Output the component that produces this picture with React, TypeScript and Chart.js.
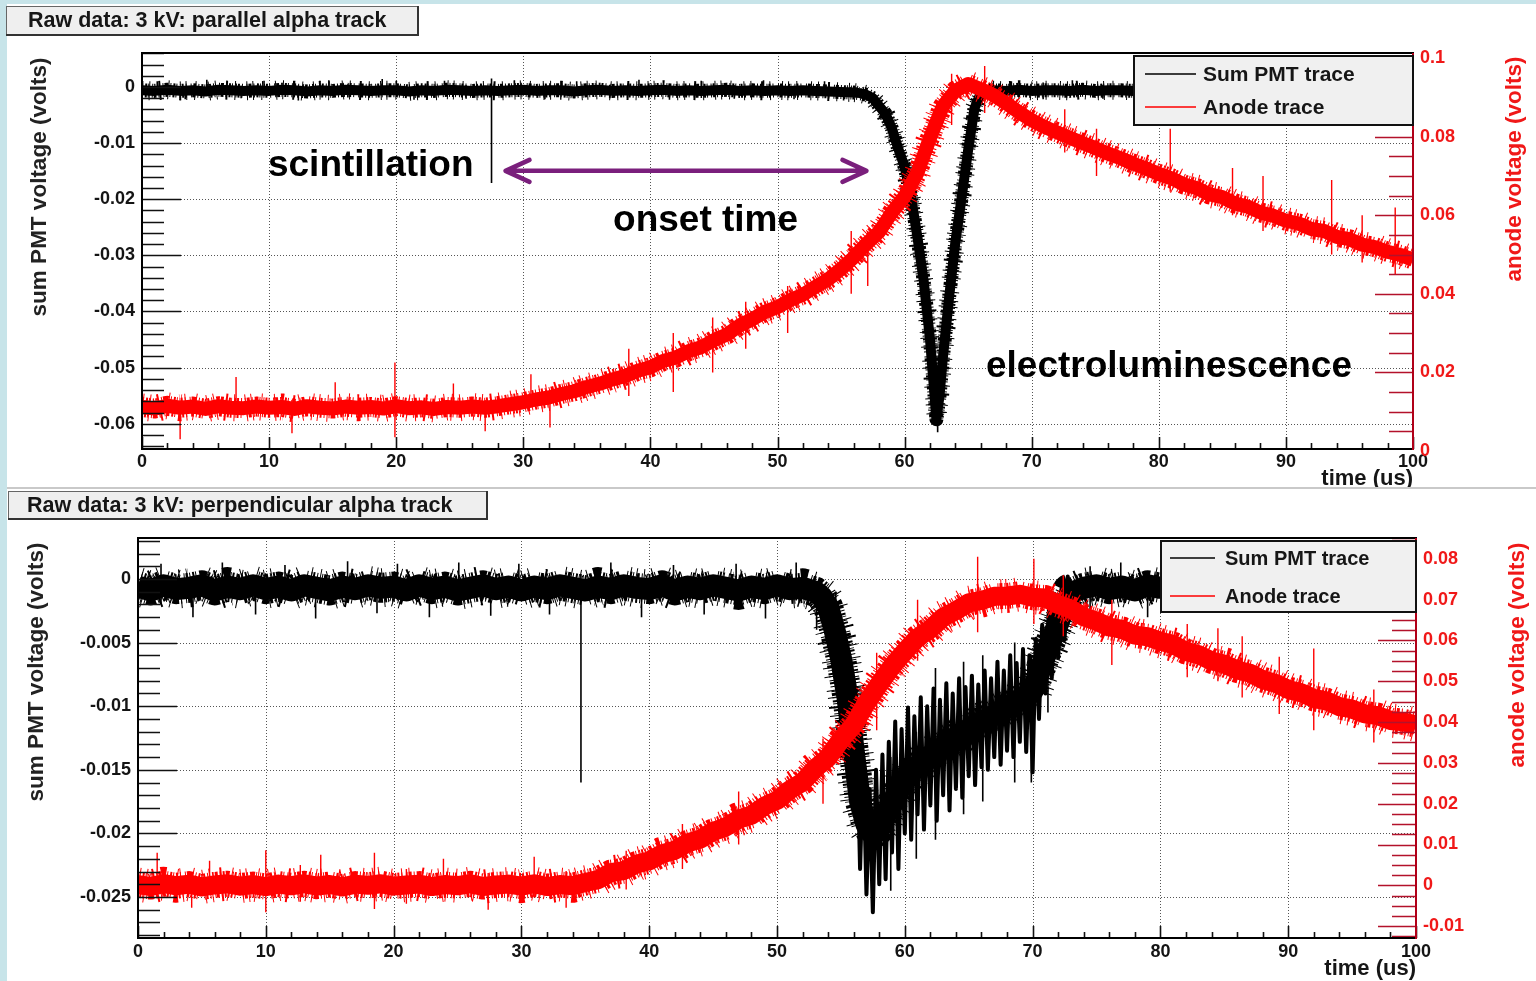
import React, { useEffect, useRef } from "react";
import { Chart, registerables } from "chart.js";

Chart.register(...registerables);

const FONT = '"Liberation Sans", Arial, Helvetica, sans-serif';
const BLUE = "#c7e4e9";

// ---------------- axis tick values ----------------
const TIME_TICKS = [0, 10, 20, 30, 40, 50, 60, 70, 80, 90, 100];
const TOP_PMT_TICKS = [0, -0.01, -0.02, -0.03, -0.04, -0.05, -0.06];
const TOP_ANODE_TICKS = [0.1, 0.08, 0.06, 0.04, 0.02, 0];
const BOTTOM_PMT_TICKS = [0, -0.005, -0.01, -0.015, -0.02, -0.025];
const BOTTOM_ANODE_TICKS = [0.08, 0.07, 0.06, 0.05, 0.04, 0.03, 0.02, 0.01, 0, -0.01];

// ---------------- shared 1 us time grid ----------------
const TIME_US = [
  0, 1, 2, 3, 4, 5, 6, 7, 8, 9, 10, 11, 12, 13, 14, 15, 16, 17, 18, 19,
  20, 21, 22, 23, 24, 25, 26, 27, 28, 29, 30, 31, 32, 33, 34, 35, 36, 37, 38, 39,
  40, 41, 42, 43, 44, 45, 46, 47, 48, 49, 50, 51, 52, 53, 54, 55, 56, 57, 58, 59,
  60, 61, 62, 63, 64, 65, 66, 67, 68, 69, 70, 71, 72, 73, 74, 75, 76, 77, 78, 79,
  80, 81, 82, 83, 84, 85, 86, 87, 88, 89, 90, 91, 92, 93, 94, 95, 96, 97, 98, 99, 100,
];

// ---------------- TOP panel: parallel alpha track ----------------
const TOP_PMT_TIME = [
  0, 1, 2, 3, 4, 5, 6, 7, 8, 9, 10, 11, 12, 13, 14, 15, 16, 17, 18, 19,
  20, 21, 22, 23, 24, 25, 26, 27, 28, 29, 30, 31, 32, 33, 34, 35, 36, 37, 38, 39,
  40, 41, 42, 43, 44, 45, 46, 47, 48, 49, 50, 51, 52, 53, 54, 55, 56,
  56.5, 57, 57.5, 58, 58.5, 59, 59.5, 60, 60.5, 61, 61.5, 62, 62.25, 62.5, 62.75, 63, 63.5, 64, 64.5, 65, 65.5, 66, 66.5,
  67, 68, 69, 70, 71, 72, 73, 74, 75, 76, 77, 78, 79, 80, 81, 82, 83, 84, 85, 86,
  87, 88, 89, 90, 91, 92, 93, 94, 95, 96, 97, 98, 99, 100,
];
const TOP_PMT_VOLTS = [
  -0.0006, -0.0007, -0.0005, -0.0007, -0.0006, -0.0008, -0.0005, -0.0006, -0.0007, -0.0006,
  -0.0007, -0.0005, -0.0006, -0.0008, -0.0006, -0.0007, -0.0005, -0.0006, -0.0007, -0.0006,
  -0.0006, -0.0008, -0.0006, -0.0007, -0.0005, -0.0006, -0.0007, -0.0006, -0.0007, -0.0006,
  -0.0005, -0.0007, -0.0006, -0.0006, -0.0008, -0.0006, -0.0005, -0.0007, -0.0006, -0.0007,
  -0.0006, -0.0005, -0.0007, -0.0006, -0.0007, -0.0006, -0.0005, -0.0007, -0.0006, -0.0007,
  -0.0006, -0.0007, -0.0006, -0.0007, -0.0008, -0.0009, -0.001,
  -0.0011, -0.0014, -0.002, -0.0034, -0.0048, -0.0074, -0.011, -0.0142, -0.0195, -0.0266,
  -0.0345, -0.045, -0.052, -0.0592, -0.055, -0.0485, -0.0375, -0.0275, -0.0195, -0.0112,
  -0.0038, -0.001, -0.0006,
  -0.0006, -0.0007, -0.0005, -0.0007, -0.0006, -0.0006, -0.0007, -0.0005, -0.0007, -0.0006,
  -0.0006, -0.0007, -0.0006, -0.0006, -0.0005, -0.0007, -0.0006, -0.0007, -0.0006, -0.0005,
  -0.0007, -0.0006, -0.0006, -0.0007, -0.0006, -0.0007, -0.0005, -0.0006, -0.0007, -0.0006,
  -0.0007, -0.0006, -0.0005, -0.0006,
];
const TOP_PMT_SPIKE_TIME = [
  1.2, 3.4, 5.1, 7.8, 9.6, 12.3, 14.7, 16.2, 18.9, 21.4, 23.8, 25.5, 27.5, 29.3, 31.7, 34.2,
  36.8, 39.1, 41.5, 44.0, 46.6, 48.9, 51.3, 53.7, 55.2, 61.6, 62.3, 62.6, 62.9, 68.4, 70.9, 73.2, 75.6,
];
const TOP_PMT_SPIKE_LOW = [
  -0.0012, -0.0022, -0.001, -0.002, -0.0009, -0.0024, -0.0011, -0.0019, -0.001, -0.0023, -0.0009,
  -0.0021, -0.0171, -0.001, -0.0022, -0.0009, -0.002, -0.001, -0.0023, -0.0011, -0.0021, -0.0009,
  -0.0022, -0.001, -0.0024, -0.042, -0.057, -0.0615, -0.057, -0.002, -0.0022, -0.0009, -0.0021,
];
const TOP_PMT_SPIKE_HIGH = [
  0.001, 0.0, 0.0013, 0.0002, 0.0011, -0.0002, 0.0012, 0.0005, 0.0014, 0.0, 0.0011,
  0.0003, 0.0015, 0.0012, 0.0001, 0.001, 0.0004, 0.0013, 0.0, 0.0011, 0.0003, 0.0012,
  0.0002, 0.001, -0.0002, -0.033, -0.046, -0.05, -0.047, 0.001, 0.0008, 0.0012, 0.0004,
];
const TOP_ANODE_VOLTS = [
  0.0112, 0.0108, 0.0115, 0.011, 0.0113, 0.0107, 0.0114, 0.011, 0.0109, 0.0113,
  0.011, 0.0112, 0.0107, 0.0114, 0.011, 0.0108, 0.0113, 0.011, 0.0112, 0.0108,
  0.0114, 0.0109, 0.0111, 0.0107, 0.0112, 0.011, 0.0113, 0.011, 0.0114, 0.0119,
  0.0124, 0.0131, 0.0136, 0.0145, 0.0152, 0.0163, 0.0171, 0.0182, 0.0191, 0.0204,
  0.0213, 0.0229, 0.0238, 0.0254, 0.0264, 0.0282, 0.0296, 0.0319, 0.0335, 0.0354,
  0.0366, 0.0384, 0.0398, 0.0418, 0.0437, 0.0463, 0.0493, 0.0527, 0.0558, 0.0607,
  0.0648, 0.0707, 0.0797, 0.0877, 0.0917, 0.0934, 0.0921, 0.0906, 0.0885, 0.0862,
  0.0842, 0.0825, 0.0811, 0.0797, 0.0784, 0.0771, 0.0757, 0.0745, 0.0731, 0.0719,
  0.0705, 0.0694, 0.0678, 0.0669, 0.0653, 0.0646, 0.063, 0.0622, 0.0607, 0.0599,
  0.0586, 0.0579, 0.0565, 0.056, 0.0545, 0.0539, 0.0525, 0.0519, 0.0507, 0.0499,
  0.0487,
];
const TOP_ANODE_SPIKE_TIME = [
  3.0, 7.4, 11.8, 15.2, 19.9, 24.5, 27.0, 30.6, 32.1, 38.3, 41.8, 44.9, 47.5, 50.8, 55.8,
  57.1, 63.7, 66.3, 72.6, 75.1, 80.9, 85.8, 88.2, 93.6, 96.0, 98.6,
];
const TOP_ANODE_SPIKE_LOW = [
  0.003, 0.01, 0.0045, 0.0095, 0.0035, 0.01, 0.005, 0.011, 0.006, 0.014, 0.015, 0.02, 0.026,
  0.03, 0.04, 0.042, 0.083, 0.086, 0.076, 0.07, 0.066, 0.06, 0.056, 0.05, 0.048, 0.045,
];
const TOP_ANODE_SPIKE_HIGH = [
  0.012, 0.0188, 0.013, 0.0175, 0.0225, 0.0172, 0.013, 0.0195, 0.015, 0.026, 0.03, 0.034, 0.038,
  0.042, 0.056, 0.056, 0.096, 0.098, 0.087, 0.082, 0.082, 0.072, 0.07, 0.069, 0.06, 0.062,
];

// ---------------- BOTTOM panel: perpendicular alpha track ----------------
const BOTTOM_PMT_TIME = [
  0, 1, 2, 3, 4, 5, 6, 7, 8, 9, 10, 11, 12, 13, 14, 15, 16, 17, 18, 19,
  20, 21, 22, 23, 24, 25, 26, 27, 28, 29, 30, 31, 32, 33, 34, 35, 36, 37, 38, 39,
  40, 41, 42, 43, 44, 45, 46, 47, 48, 49, 50, 51, 52, 53,
  53.5, 54, 54.5, 55, 55.5, 56, 56.5, 57, 57.5, 58, 58.5, 59, 59.5, 60, 60.5, 61, 61.5, 62, 62.5, 63,
  63.5, 64, 64.5, 65, 65.5, 66, 66.5, 67, 67.5, 68, 68.5, 69, 69.5, 70, 70.5, 71, 71.5, 72, 72.5, 73,
  74, 75, 76, 77, 78, 79, 80, 81, 82, 83, 84, 85, 86, 87, 88, 89, 90, 91, 92, 93,
  94, 95, 96, 97, 98, 99, 100,
];
const BOTTOM_PMT_VOLTS = [
  -0.0006, -0.0009, -0.0005, -0.0008, -0.0007, -0.0005, -0.0009, -0.0006, -0.0008, -0.0005,
  -0.0008, -0.0006, -0.0009, -0.0005, -0.0007, -0.0009, -0.0006, -0.0008, -0.0005, -0.0007,
  -0.0006, -0.0009, -0.0005, -0.0008, -0.0006, -0.0009, -0.0007, -0.0005, -0.0008, -0.0006,
  -0.0009, -0.0006, -0.0008, -0.0005, -0.0007, -0.0009, -0.0006, -0.0008, -0.0005, -0.0007,
  -0.0008, -0.0005, -0.0009, -0.0006, -0.0008, -0.0005, -0.0007, -0.0009, -0.0006, -0.0008,
  -0.0005, -0.0008, -0.0007, -0.001,
  -0.0014, -0.0022, -0.004, -0.0062, -0.0092, -0.0135, -0.0175, -0.0193, -0.0201, -0.0197,
  -0.0186, -0.0176, -0.0167, -0.0158, -0.0152, -0.0147, -0.0143, -0.0139, -0.0136, -0.0132,
  -0.0128, -0.0125, -0.0121, -0.0118, -0.0115, -0.0112, -0.011, -0.0107, -0.0104, -0.0101,
  -0.0098, -0.0095, -0.0092, -0.0088, -0.0074, -0.006, -0.0047, -0.0035, -0.0021, -0.0011,
  -0.0007, -0.0005, -0.0008, -0.0006, -0.0009, -0.0005, -0.0007, -0.0006, -0.0008, -0.0005,
  -0.0009, -0.0006, -0.0007, -0.0008, -0.0005, -0.0009, -0.0006, -0.0008, -0.0005, -0.0007,
  -0.0006, -0.0009, -0.0005, -0.0008, -0.0006, -0.0007, -0.0008,
];
const BOTTOM_PMT_NOISE_TIME = [
  55.75, 56, 56.25, 56.5, 56.75, 57, 57.25, 57.5, 57.75, 58,
  58.25, 58.5, 58.75, 59, 59.25, 59.5, 59.75, 60, 60.25, 60.5,
  60.75, 61, 61.25, 61.5, 61.75, 62, 62.25, 62.5, 62.75, 63,
  63.25, 63.5, 63.75, 64, 64.25, 64.5, 64.75, 65, 65.25, 65.5,
  65.75, 66, 66.25, 66.5, 66.75, 67, 67.25, 67.5, 67.75, 68,
  68.25, 68.5, 68.75, 69, 69.25, 69.5, 69.75, 70, 70.25, 70.5,
  70.75, 71, 71.25, 71.5, 71.75, 72, 72.25, 72.5, 72.75, 73,
];
const BOTTOM_PMT_NOISE_VOLTS = [
  -0.0085, -0.0175, -0.0118, -0.0228, -0.0142, -0.0248, -0.0165, -0.0262, -0.015, -0.024,
  -0.0138, -0.0236, -0.0128, -0.0215, -0.0112, -0.0228, -0.0118, -0.02, -0.0101, -0.0205,
  -0.0108, -0.0185, -0.0093, -0.0197, -0.01, -0.0178, -0.0086, -0.019, -0.0095, -0.017,
  -0.0082, -0.0182, -0.009, -0.0165, -0.0078, -0.0172, -0.0085, -0.0155, -0.0076, -0.0162,
  -0.0083, -0.0148, -0.0072, -0.015, -0.0078, -0.014, -0.0065, -0.0146, -0.0072, -0.0135,
  -0.006, -0.014, -0.0066, -0.0128, -0.0055, -0.0136, -0.006, -0.0152, -0.0047, -0.011,
  -0.0036, -0.009, -0.0028, -0.0078, -0.0018, -0.0062, -0.0008, -0.0048, 0.0002, -0.003,
];
const BOTTOM_PMT_SPIKE_TIME = [
  1.8, 4.3, 6.6, 9.2, 11.5, 13.9, 16.4, 18.7, 20.3, 22.8, 25.1, 27.6, 29.8, 32.2, 34.66,
  37.0, 39.4, 41.9, 44.3, 46.8, 49.1, 51.5, 53.1, 54.6, 74.5, 76.9, 79.0,
  58.9, 60.9, 62.4, 64.6, 66.1, 68.6, 69.9, 71.2,
];
const BOTTOM_PMT_SPIKE_LOW = [
  -0.002, -0.003, -0.0015, -0.0028, -0.0016, -0.0031, -0.0014, -0.0027, -0.0017, -0.003,
  -0.0015, -0.0029, -0.0016, -0.0028, -0.016, -0.0015, -0.003, -0.0016, -0.0028, -0.0014,
  -0.0031, -0.0017, -0.004, -0.0075, -0.0028, -0.0016, -0.003,
  -0.0245, -0.022, -0.0205, -0.0185, -0.0175, -0.016, -0.016, -0.0105,
];
const BOTTOM_PMT_SPIKE_HIGH = [
  0.0012, -0.0005, 0.0013, -0.0002, 0.0011, -0.0006, 0.0014, 0.0, 0.0012, -0.0004,
  0.0013, 0.0001, 0.0012, -0.0003, 0.0004, 0.0013, -0.0002, 0.0011, 0.0001, 0.0012,
  -0.0004, 0.0013, -0.0006, -0.001, 0.001, 0.0013, 0.0,
  -0.014, -0.012, -0.007, -0.0065, -0.006, -0.005, -0.006, -0.002,
];
const BOTTOM_ANODE_VOLTS = [
  0.0002, -0.0003, 0.0004, -0.0001, 0.0003, -0.0004, 0.0001, 0.0004, -0.0002, 0.0002,
  -0.0003, 0.0003, -0.0001, 0.0004, -0.0002, 0.0002, -0.0004, 0.0003, 0.0, 0.0004,
  -0.0002, 0.0001, 0.0003, -0.0003, 0.0002, -0.0001, 0.0004, -0.0003, 0.0001, 0.0003,
  -0.0002, 0.0004, -0.0003, 0.0002, -0.0001, 0.0007, 0.0014, 0.0031, 0.0036, 0.0052,
  0.006, 0.0077, 0.0086, 0.0104, 0.0113, 0.0132, 0.0143, 0.0162, 0.0172, 0.0194,
  0.0208, 0.0234, 0.0253, 0.0287, 0.0313, 0.0357, 0.0393, 0.0447, 0.0493, 0.0537,
  0.0573, 0.0607, 0.0628, 0.0657, 0.0673, 0.0692, 0.0698, 0.0708, 0.0709, 0.0713,
  0.0706, 0.0704, 0.0688, 0.0677, 0.0658, 0.0647, 0.0633, 0.0627, 0.0613, 0.0609,
  0.0598, 0.059, 0.0573, 0.0565, 0.055, 0.0542, 0.0528, 0.052, 0.0504, 0.0495,
  0.048, 0.0472, 0.0458, 0.0452, 0.0438, 0.0432, 0.042, 0.0416, 0.0404, 0.0401,
  0.0393,
];
const BOTTOM_ANODE_SPIKE_TIME = [
  1.5, 4.2, 5.6, 10.0, 12.7, 14.3, 18.5, 21.0, 23.9, 27.4, 31.0, 33.5, 38.2, 42.6,
  47.0, 53.6, 57.8, 61.0, 65.7, 70.1, 72.4, 76.2, 82.1, 84.5, 86.4, 89.3, 92.0, 96.7,
];
const BOTTOM_ANODE_SPIKE_LOW = [
  -0.003, -0.0055, -0.002, -0.0066, -0.004, -0.0025, -0.0058, -0.0045, -0.002, -0.006,
  -0.003, -0.0055, -0.001, 0.004, 0.01, 0.02, 0.038, 0.055, 0.062, 0.064,
  0.061, 0.054, 0.051, 0.05, 0.046, 0.042, 0.038, 0.035,
];
const BOTTOM_ANODE_SPIKE_HIGH = [
  0.008, 0.002, 0.006, 0.0086, 0.005, 0.0075, 0.008, 0.004, 0.0065, 0.003,
  0.007, 0.0035, 0.0085, 0.015, 0.023, 0.036, 0.057, 0.07, 0.0805, 0.08,
  0.076, 0.07, 0.064, 0.063, 0.061, 0.056, 0.058, 0.048,
];

// ---------------- helpers ----------------
const toXY = (t: number[], v: number[]) => t.map((x, i) => ({ x, y: v[i] }));
const toSpikes = (t: number[], lo: number[], hi: number[]) => {
  const out: { x: number; y: number | null }[] = [];
  t.forEach((x, i) => {
    out.push({ x, y: lo[i] }, { x, y: hi[i] }, { x, y: null });
  });
  return out;
};

const lineSet = (label: string, data: any[], yAxisID: string, color: string, width: number, order: number, dash: number[] = []) => ({
  type: "line",
  label,
  data,
  yAxisID,
  xAxisID: "x",
  borderColor: color,
  backgroundColor: color,
  borderWidth: width,
  borderDash: dash,
  pointRadius: 0,
  pointHoverRadius: 0,
  tension: 0,
  fill: false,
  spanGaps: false,
  borderJoinStyle: "round",
  borderCapStyle: "butt",
  order,
  clip: 1,
});

// noisy band = solid core + two dashed "fuzz" strokes (styling only, same data)
const FUZZ_NEAR = [1, 2, 2, 1, 1, 3, 1, 1, 2, 2, 1, 4, 1, 1, 3, 2];
const FUZZ_FAR = [1, 6, 1, 9, 2, 7, 1, 11, 1, 5, 1, 8, 1, 13];
const bandSets = (label: string, data: any[], yAxisID: string, color: string, width: number, near: number, far: number, order: number) => [
  lineSet(label, data, yAxisID, color, width, order),
  lineSet(label + " fuzz", data, yAxisID, color, width + near, order + 0.1, FUZZ_NEAR),
  lineSet(label + " fuzz2", data, yAxisID, color, width + far, order + 0.2, FUZZ_FAR),
];

type Panel = any;

const TOP_PANEL: Panel = {
  key: "top",
  height: 487,
  area: { left: 142, right: 1413, top: 53, bottom: 449 },
  leftRange: [-0.0645, 0.00605],
  rightRange: [0.0005, 0.1013],
  leftTicks: TOP_PMT_TICKS,
  rightTicks: TOP_ANODE_TICKS,
  leftMinor: 0.002,
  leftMajor: 0.01,
  rightMinor: 0.005,
  rightMajor: 0.02,
  tickFont: 18,
  xPad: 2,
  title: "Raw data: 3 kV: parallel alpha track",
  titleBox: { x: 6, y: 6, w: 412, h: 29 },
  titleTextX: 28,
  topStrip: true,
  separator: false,
  leftTitle: { x: 40, y: 187 },
  rightTitle: { x: 1515, y: 169 },
  xTitle: { x: 1413, y: 485 },
  legend: { x: 1134, y: 56, w: 279, h: 69, rows: [74, 107], l1: 1145, l2: 1196, tx: 1203, font: 21 },
  annotations: true,
  datasets: [
    ...bandSets("Anode trace", toXY(TIME_US, TOP_ANODE_VOLTS), "y1", "#ff0000", 14, 6, 13, 1),
    lineSet("anode noise", toSpikes(TOP_ANODE_SPIKE_TIME, TOP_ANODE_SPIKE_LOW, TOP_ANODE_SPIKE_HIGH), "y1", "#ff0000", 1.4, 2),
    lineSet("pmt noise", toSpikes(TOP_PMT_SPIKE_TIME, TOP_PMT_SPIKE_LOW, TOP_PMT_SPIKE_HIGH), "y", "#000000", 1.6, 3),
    ...bandSets("Sum PMT trace", toXY(TOP_PMT_TIME, TOP_PMT_VOLTS), "y", "#000000", 10, 4, 9, 4),
  ],
};

const BOTTOM_PANEL: Panel = {
  key: "bottom",
  height: 494,
  area: { left: 138, right: 1416, top: 51, bottom: 451 },
  leftRange: [-0.02822, 0.00322],
  rightRange: [-0.0129, 0.0851],
  leftTicks: BOTTOM_PMT_TICKS,
  rightTicks: BOTTOM_ANODE_TICKS,
  leftMinor: 0.001,
  leftMajor: 0.005,
  rightMinor: 0.0025,
  rightMajor: 0.01,
  tickFont: 18,
  xPad: 3,
  title: "Raw data: 3 kV: perpendicular alpha track",
  titleBox: { x: 8, y: 4, w: 479, h: 28 },
  titleTextX: 27,
  topStrip: false,
  separator: true,
  leftTitle: { x: 37, y: 185 },
  rightTitle: { x: 1518, y: 168 },
  xTitle: { x: 1416, y: 488 },
  legend: { x: 1161, y: 54, w: 255, h: 71, rows: [71, 109], l1: 1170, l2: 1215, tx: 1225, font: 20 },
  annotations: false,
  datasets: [
    ...bandSets("Anode trace", toXY(TIME_US, BOTTOM_ANODE_VOLTS), "y1", "#ff0000", 19, 7, 15, 1),
    lineSet("anode noise", toSpikes(BOTTOM_ANODE_SPIKE_TIME, BOTTOM_ANODE_SPIKE_LOW, BOTTOM_ANODE_SPIKE_HIGH), "y1", "#ff0000", 1.4, 2),
    lineSet("pmt zigzag", toXY(BOTTOM_PMT_NOISE_TIME, BOTTOM_PMT_NOISE_VOLTS), "y", "#000000", 4, 3),
    lineSet("pmt noise", toSpikes(BOTTOM_PMT_SPIKE_TIME, BOTTOM_PMT_SPIKE_LOW, BOTTOM_PMT_SPIKE_HIGH), "y", "#000000", 1.6, 4),
    ...bandSets("Sum PMT trace", toXY(BOTTOM_PMT_TIME, BOTTOM_PMT_VOLTS), "y", "#000000", 22, 8, 17, 5),
  ],
};

const LEGEND_ENTRIES = ["Sum PMT trace", "Anode trace"];

function drawInwardTicks(ctx: any, scale: any, minor: number, major: number, fixed: number, dir: number, majLen: number, minLen: number, vertical: boolean) {
  const lo = Math.min(scale.min, scale.max);
  const hi = Math.max(scale.min, scale.max);
  const k0 = Math.ceil(lo / minor - 1e-9);
  const k1 = Math.floor(hi / minor + 1e-9);
  ctx.beginPath();
  for (let k = k0; k <= k1; k++) {
    const v = k * minor;
    const r = v / major;
    const isMajor = Math.abs(r - Math.round(r)) < 1e-6;
    const len = isMajor ? majLen : minLen;
    const p = Math.round(scale.getPixelForValue(v)) + 0.5;
    if (vertical) {
      ctx.moveTo(fixed, p);
      ctx.lineTo(fixed + dir * len, p);
    } else {
      ctx.moveTo(p, fixed);
      ctx.lineTo(p, fixed + dir * len);
    }
  }
  ctx.stroke();
}

function makePlugin(p: Panel) {
  return {
    id: "rootPanel",
    beforeDraw(chart: any) {
      const ctx = chart.ctx;
      const W = chart.width;
      const H = chart.height;
      ctx.save();
      ctx.fillStyle = "#ffffff";
      ctx.fillRect(0, 0, W, H);
      ctx.fillStyle = BLUE;
      if (p.topStrip) ctx.fillRect(0, 0, W, 4);
      ctx.fillRect(0, 0, 7, H);
      if (p.separator) {
        ctx.fillStyle = "#c9c9c9";
        ctx.fillRect(7, 0, W - 7, 2);
      }
      const tb = p.titleBox;
      ctx.fillStyle = "#efefef";
      ctx.fillRect(tb.x, tb.y, tb.w, tb.h);
      ctx.strokeStyle = "#666";
      ctx.lineWidth = 1;
      ctx.strokeRect(tb.x + 0.5, tb.y + 0.5, tb.w, tb.h);
      ctx.fillStyle = "#333";
      ctx.fillRect(tb.x + tb.w - 1, tb.y, 2, tb.h + 1);
      ctx.fillRect(tb.x, tb.y + tb.h - 1, tb.w + 1, 2);
      ctx.fillStyle = "#161616";
      ctx.font = `bold 21.5px ${FONT}`;
      ctx.textAlign = "left";
      ctx.textBaseline = "middle";
      ctx.fillText(p.title, p.titleTextX, tb.y + tb.h / 2 + 1);
      ctx.font = `bold 22.5px ${FONT}`;
      ctx.textAlign = "center";
      ctx.save();
      ctx.translate(p.leftTitle.x, p.leftTitle.y);
      ctx.rotate(-Math.PI / 2);
      ctx.fillStyle = "#222";
      ctx.fillText("sum PMT voltage (volts)", 0, 0);
      ctx.restore();
      ctx.save();
      ctx.translate(p.rightTitle.x, p.rightTitle.y);
      ctx.rotate(-Math.PI / 2);
      ctx.fillStyle = "#f01818";
      ctx.fillText("anode voltage (volts)", 0, 0);
      ctx.restore();
      ctx.restore();
    },
    beforeDatasetsDraw(chart: any) {
      const ctx = chart.ctx;
      const a = chart.chartArea;
      const xs = chart.scales.x;
      const ys = chart.scales.y;
      ctx.save();
      ctx.strokeStyle = "#555";
      ctx.lineWidth = 1;
      ctx.setLineDash([1, 2]);
      ctx.beginPath();
      TIME_TICKS.forEach((t) => {
        if (t <= xs.min || t >= xs.max) return;
        const x = Math.round(xs.getPixelForValue(t)) + 0.5;
        ctx.moveTo(x, a.top);
        ctx.lineTo(x, a.bottom);
      });
      p.leftTicks.forEach((v: number) => {
        if (v <= ys.min || v >= ys.max) return;
        const y = Math.round(ys.getPixelForValue(v)) + 0.5;
        ctx.moveTo(a.left, y);
        ctx.lineTo(a.right, y);
      });
      ctx.stroke();
      ctx.restore();
    },
    afterDatasetsDraw(chart: any) {
      const ctx = chart.ctx;
      const a = chart.chartArea;
      const xs = chart.scales.x;
      const ys = chart.scales.y;
      const ys1 = chart.scales.y1;
      ctx.save();
      ctx.setLineDash([]);
      ctx.lineWidth = 1.6;
      ctx.strokeStyle = "#111";
      drawInwardTicks(ctx, ys, p.leftMinor, p.leftMajor, a.left, 1, 39, 22, true);
      drawInwardTicks(ctx, xs, 2, 10, a.bottom, -1, 12, 6, false);
      ctx.strokeStyle = "#b3122b";
      drawInwardTicks(ctx, ys1, p.rightMinor, p.rightMajor, a.right, -1, 38, 24, true);
      ctx.strokeStyle = "#000";
      ctx.lineWidth = 2;
      ctx.strokeRect(a.left, a.top, a.right - a.left, a.bottom - a.top);
      ctx.strokeStyle = "#b00018";
      ctx.beginPath();
      ctx.moveTo(a.right, a.top);
      ctx.lineTo(a.right, a.bottom + 1);
      ctx.stroke();

      const lg = p.legend;
      ctx.fillStyle = "#f0f0f0";
      ctx.fillRect(lg.x, lg.y, lg.w, lg.h);
      ctx.strokeStyle = "#111";
      ctx.lineWidth = 2;
      ctx.strokeRect(lg.x, lg.y, lg.w, lg.h);
      ctx.font = `bold ${lg.font}px ${FONT}`;
      ctx.textAlign = "left";
      ctx.textBaseline = "middle";
      LEGEND_ENTRIES.forEach((name, i) => {
        const ds = chart.data.datasets.find((d: any) => d.label === name);
        const y = lg.rows[i];
        ctx.strokeStyle = ds ? ds.borderColor : "#000";
        ctx.lineWidth = 1.6;
        ctx.beginPath();
        ctx.moveTo(lg.l1, y);
        ctx.lineTo(lg.l2, y);
        ctx.stroke();
        ctx.fillStyle = "#161616";
        ctx.fillText(name, lg.tx, y + 1);
      });

      if (p.annotations) {
        ctx.fillStyle = "#000";
        ctx.font = `bold 37px ${FONT}`;
        ctx.textAlign = "left";
        ctx.textBaseline = "alphabetic";
        ctx.fillText("scintillation", xs.getPixelForValue(9.91), ys.getPixelForValue(-0.01584));
        ctx.fillText("onset time", xs.getPixelForValue(37.06), ys.getPixelForValue(-0.02562));
        ctx.fillText("electroluminescence", xs.getPixelForValue(66.4), ys.getPixelForValue(-0.0516));
        const x1 = xs.getPixelForValue(28.6);
        const x2 = xs.getPixelForValue(57.0);
        const y = ys.getPixelForValue(-0.01495);
        ctx.strokeStyle = "#7a1f7c";
        ctx.lineWidth = 4.5;
        ctx.lineCap = "round";
        ctx.lineJoin = "round";
        ctx.beginPath();
        ctx.moveTo(x1 + 2, y);
        ctx.lineTo(x2 - 2, y);
        ctx.moveTo(x1 + 24, y - 11);
        ctx.lineTo(x1, y);
        ctx.lineTo(x1 + 24, y + 11);
        ctx.moveTo(x2 - 24, y - 11);
        ctx.lineTo(x2, y);
        ctx.lineTo(x2 - 24, y + 11);
        ctx.stroke();
      }

      ctx.fillStyle = "#161616";
      ctx.font = `bold 22px ${FONT}`;
      ctx.textAlign = "right";
      ctx.textBaseline = "alphabetic";
      ctx.fillText("time (us)", p.xTitle.x, p.xTitle.y);
      ctx.restore();
    },
  };
}

function buildConfig(p: Panel) {
  const W = 1536;
  const tickFont = { family: FONT, size: p.tickFont, weight: "bold" };
  return {
    type: "line",
    data: { datasets: p.datasets },
    options: {
      responsive: false,
      maintainAspectRatio: false,
      animation: false,
      devicePixelRatio: 1,
      events: [],
      layout: { padding: { top: p.area.top, left: 0, right: 0, bottom: 0 } },
      plugins: { legend: { display: false }, tooltip: { enabled: false }, title: { display: false } },
      scales: {
        x: {
          type: "linear",
          position: "bottom",
          min: 0,
          max: 100,
          offset: false,
          afterFit: (s: any) => {
            s.height = p.height - p.area.bottom;
          },
          afterBuildTicks: (s: any) => {
            s.ticks = TIME_TICKS.map((v) => ({ value: v }));
          },
          grid: { display: false, drawTicks: false },
          border: { display: false },
          ticks: {
            autoSkip: false,
            maxRotation: 0,
            padding: p.xPad,
            color: "#141414",
            font: tickFont,
            callback: (v: any) => String(v),
          },
        },
        y: {
          type: "linear",
          position: "left",
          min: p.leftRange[0],
          max: p.leftRange[1],
          afterFit: (s: any) => {
            s.width = p.area.left;
          },
          afterBuildTicks: (s: any) => {
            s.ticks = p.leftTicks.map((v: number) => ({ value: v }));
          },
          grid: { display: false, drawTicks: false },
          border: { display: false },
          ticks: {
            autoSkip: false,
            padding: 7,
            color: "#141414",
            font: tickFont,
            callback: (v: any) => String(v),
          },
        },
        y1: {
          type: "linear",
          position: "right",
          min: p.rightRange[0],
          max: p.rightRange[1],
          afterFit: (s: any) => {
            s.width = W - p.area.right;
          },
          afterBuildTicks: (s: any) => {
            s.ticks = p.rightTicks.map((v: number) => ({ value: v }));
          },
          grid: { display: false, drawTicks: false },
          border: { display: false },
          ticks: {
            autoSkip: false,
            padding: 7,
            color: "#f01818",
            font: tickFont,
            callback: (v: any) => String(v),
          },
        },
      },
    },
    plugins: [makePlugin(p)],
  };
}

function PanelChart({ panel, top }: { panel: Panel; top: number }) {
  const ref = useRef<HTMLCanvasElement | null>(null);
  useEffect(() => {
    if (!ref.current) return;
    const chart = new Chart(ref.current, buildConfig(panel) as any);
    return () => chart.destroy();
  }, [panel]);
  return (
    <canvas
      ref={ref}
      width={1536}
      height={panel.height}
      style={{ position: "absolute", left: 0, top, width: 1536, height: panel.height, display: "block" }}
    />
  );
}

export default function App() {
  return (
    <div
      style={{
        position: "absolute",
        left: 0,
        top: 0,
        width: 1536,
        height: 981,
        background: "#ffffff",
        overflow: "hidden",
      }}
    >
      <PanelChart panel={TOP_PANEL} top={0} />
      <PanelChart panel={BOTTOM_PANEL} top={487} />
    </div>
  );
}
